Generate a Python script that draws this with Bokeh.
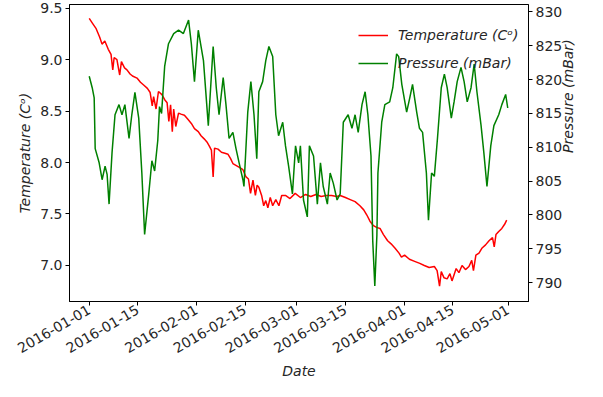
import math
import pandas as pd
from bokeh.plotting import figure
from bokeh.models import (Range1d, LinearAxis, FixedTicker, DatetimeTickFormatter,
                          PrintfTickFormatter, Legend, LegendItem)
from bokeh.embed import file_html
from bokeh.resources import INLINE

# ---- data (days since 2016-01-01) ----
t_days = [0, 1, 2, 3, 3.7, 4.5, 5.5, 6.3, 6.8, 7.2, 8, 8.8, 9.3, 10.2, 10.9, 11.8, 12.5,
          13.8, 14.8, 15.8, 16.8, 17.6, 18.2, 18.6, 19.3, 20, 21, 21.8, 22.5, 23.0, 23.5,
          24.0, 24.4, 25.0, 25.8, 26.5, 27.5, 28.5, 29.5, 30.4, 31.5, 32.3, 33.2, 34.0,
          34.7, 35.3, 35.8, 36.2, 37.2, 38.2, 39.2, 40.1, 40.8, 41.5, 42.5, 43.5, 44.4,
          45.3, 46.0, 46.6, 47.3, 48.0, 48.5, 49.0, 49.8, 50.4, 51.0, 51.6, 52.3, 53.0,
          53.9, 54.8, 55.6, 56.7, 58, 59.5, 61, 62.5, 64, 65.5, 67, 68.5, 70, 71.5, 72.5,
          74, 75.4, 76.8, 78.2, 79.3, 80.2, 81.1, 82, 83, 84, 85, 86.2, 87.2, 88.3, 89.5,
          90.2, 91.1, 92.5, 94, 95.5, 96.8, 98.2, 99.7, 100.5, 101.2, 101.7, 102.5, 103.4,
          104.2, 104.8, 106, 106.8, 107.7, 108.7, 109.7, 110.5, 111.0, 111.7, 112.6, 113.5,
          114.5, 115.5, 116.5, 117.0, 117.5, 118.3, 119.2, 120, 120.6]
t_vals = [9.40, 9.35, 9.30, 9.22, 9.15, 9.18, 9.10, 9.05, 8.90, 9.02, 9.00, 8.85, 8.98,
          8.92, 8.90, 8.86, 8.84, 8.82, 8.78, 8.75, 8.72, 8.68, 8.55, 8.64, 8.52, 8.69, 8.66,
          8.61, 8.58, 8.40, 8.56, 8.30, 8.52, 8.35, 8.48, 8.47, 8.46, 8.42, 8.38, 8.33, 8.30,
          8.26, 8.23, 8.20, 8.16, 8.12, 7.86, 8.14, 8.13, 8.10, 8.09, 8.08, 8.04, 7.99, 7.97,
          7.95, 7.93, 7.86, 7.84, 7.70, 7.83, 7.68, 7.78, 7.76, 7.68, 7.58, 7.63, 7.56, 7.66,
          7.58, 7.64, 7.58, 7.68, 7.68, 7.65, 7.70, 7.66, 7.69, 7.67, 7.69, 7.67, 7.68, 7.68,
          7.67, 7.68, 7.66, 7.64, 7.62, 7.58, 7.54, 7.49, 7.43, 7.39, 7.37, 7.36, 7.30, 7.24,
          7.21, 7.17, 7.12, 7.08, 7.10, 7.06, 7.04, 7.02, 7.00, 6.98, 6.99, 6.95, 6.80, 6.94,
          6.88, 6.87, 6.92, 6.85, 6.97, 6.93, 7.00, 6.96, 6.99, 7.05, 6.95, 7.10, 7.12, 7.17,
          7.20, 7.24, 7.27, 7.18, 7.30, 7.33, 7.36, 7.40, 7.44]

p_days = [0.0, 0.86, 1.43, 1.72, 2.87, 3.72, 4.58, 5.16, 5.73, 6.59, 7.45, 8.6, 9.46, 10.3,
          11.5, 12.3, 13.2, 14.3, 15.2, 16.0, 17.2, 18.1, 18.9, 19.8, 20.3, 20.9, 21.8,
          22.9, 24.4, 25.8, 27.2, 28.7, 29.5, 30.4, 31.5, 33.0, 34.4, 35.8, 36.7, 37.5, 38.7,
          39.5, 40.4, 41.5, 42.4, 43.3, 44.4, 44.7, 45.8, 46.7, 47.6, 48.4, 49.0, 50.1,
          51.0, 51.9, 53.0, 53.9, 54.7, 55.9, 56.7, 57.6, 58.7, 59.6, 60.5, 61.0, 61.9,
          63.0, 63.6, 64.8, 65.9, 66.8, 67.6, 68.8, 69.6, 70.5, 71.6, 72.5, 73.4, 74.8,
          75.9, 76.8, 77.7, 78.8, 79.7, 80.5, 81.4, 81.9, 82.5, 83.1, 83.4, 84.5, 85.4,
          86.8, 87.7, 88.8, 89.4, 90.3, 91.7, 92.6, 93.4, 94.6, 95.4, 96.3, 97.4, 98.0,
          98.9, 99.7, 100.6, 101.7, 102.6, 103.4, 104.6, 105.4, 106.3, 107.4, 108.3, 109.2,
          110.3, 111.2, 112.0, 113.2, 114.0, 114.9, 116.0, 116.9, 118.3, 119.2, 120.3, 120.9]
p_vals = [820.5, 818.8, 817.3, 809.8, 807.7, 805.2, 807.2, 806.0, 801.6, 809.2, 814.8,
          816.3, 814.8, 816.3, 811.3, 814.8, 818.1, 814.3, 806.2, 797.1, 803.1, 808.0, 806.5,
          811.0, 816.0, 815.0, 822.0, 825.3, 826.8, 827.3, 826.8, 828.8, 825.3, 819.7, 827.3,
          822.8, 813.2, 824.9, 818.8, 814.8, 820.3, 816.3, 811.3, 812.2, 809.8, 807.7, 805.2,
          804.2, 815.2, 819.7, 814.8, 808.3, 818.2, 819.7, 822.8, 824.9, 823.4, 814.8, 811.7,
          813.7, 810.2, 807.2, 803.1, 810.2, 807.7, 810.2, 802.2, 799.7, 810.2, 808.7, 801.6,
          807.7, 804.2, 801.6, 806.2, 804.7, 802.2, 803.1, 813.7, 814.8, 812.8, 814.8, 812.2,
          816.3, 818.2, 814.8, 808.7, 796.2, 789.5, 797.0, 806.2, 813.7, 816.3, 816.7, 818.8,
          823.8, 823.4, 819.3, 815.2, 817.3, 819.3, 815.2, 812.8, 812.2, 806.2, 799.2, 806.2,
          805.7, 811.3, 818.8, 820.8, 818.8, 814.3, 816.7, 819.7, 821.8, 819.7, 816.7, 818.8,
          822.3, 818.2, 813.2, 809.2, 804.2, 810.2, 813.2, 814.8, 816.3, 817.8, 815.8]

x_tick_labels = ["2016-01-01", "2016-01-15", "2016-02-01", "2016-02-15", "2016-03-01",
                 "2016-03-15", "2016-04-01", "2016-04-15", "2016-05-01"]
t_ticks = [7.0, 7.5, 8.0, 8.5, 9.0, 9.5]
p_ticks = [790, 795, 800, 805, 810, 815, 820, 825, 830]

base = pd.Timestamp("2016-01-01")
t_x = [base + pd.Timedelta(days=d) for d in t_days]
p_x = [base + pd.Timedelta(days=d) for d in p_days]
tick_ms = [pd.Timestamp(s).value / 1e6 for s in x_tick_labels]

FONT = "DejaVu Sans"
TXT = "#262626"
FS = "14px"

p = figure(width=587, height=381, x_axis_type="datetime", output_backend="svg",
           toolbar_location=None,
           x_range=Range1d(base - pd.Timedelta(days=5.7), base + pd.Timedelta(days=126.9)),
           y_range=Range1d(6.65, 9.535),
           min_border_left=69, min_border_right=45, min_border_top=4, min_border_bottom=80)
p.extra_y_ranges = {"p": Range1d(787.2, 831.1)}
p.grid.visible = False
p.outline_line_color = "black"
p.outline_line_width = 1
p.background_fill_color = "white"
p.border_fill_color = "white"

r_t = p.line(t_x, t_vals, color="#ff0000", line_width=1.5)
r_p = p.line(p_x, p_vals, color="#008000", line_width=1.5, y_range_name="p")

rax = LinearAxis(y_range_name="p", axis_label="Pressure (mBar)")
p.add_layout(rax, "right")

for ax in [p.xaxis[0], p.yaxis[0], rax]:
    ax.major_label_text_font = FONT
    ax.major_label_text_font_size = FS
    ax.major_label_text_color = TXT
    ax.axis_label_text_font = FONT
    ax.axis_label_text_font_size = FS
    ax.axis_label_text_font_style = "italic"
    ax.axis_label_text_color = TXT
    ax.axis_line_color = "black"
    ax.major_tick_line_color = "black"
    ax.major_tick_out = 4
    ax.major_tick_in = 0
    ax.minor_tick_line_color = None
    ax.major_label_standoff = 3
    ax.axis_label_standoff = 4

p.xaxis[0].ticker = FixedTicker(ticks=tick_ms)
fmt = "%Y-%m-%d"
p.xaxis[0].formatter = DatetimeTickFormatter(days=fmt, months=fmt, years=fmt, hours=fmt)
p.xaxis[0].major_label_orientation = math.pi / 6
p.xaxis[0].axis_label = "Date"
p.xaxis[0].axis_label_standoff = 2
p.yaxis[0].ticker = FixedTicker(ticks=t_ticks)
p.yaxis[0].formatter = PrintfTickFormatter(format="%.1f")
p.yaxis[0].axis_label = "Temperature (Cᵒ)"
rax.ticker = FixedTicker(ticks=p_ticks)
rax.axis_label_standoff = 3
try:
    rax.axis_label_orientation = math.pi / 2
except Exception:
    pass

legend = Legend(items=[LegendItem(label="Temperature (Cᵒ)", renderers=[r_t]),
                       LegendItem(label="Pressure (mBar)", renderers=[r_p])],
                location=(289, 228), border_line_color=None, background_fill_alpha=0,
                label_text_font=FONT, label_text_font_size=FS,
                label_text_font_style="italic", label_text_color=TXT,
                glyph_width=30, spacing=8, label_standoff=10, padding=10, margin=0)
p.add_layout(legend)

open("out.html", "w").write(file_html(p, INLINE))
